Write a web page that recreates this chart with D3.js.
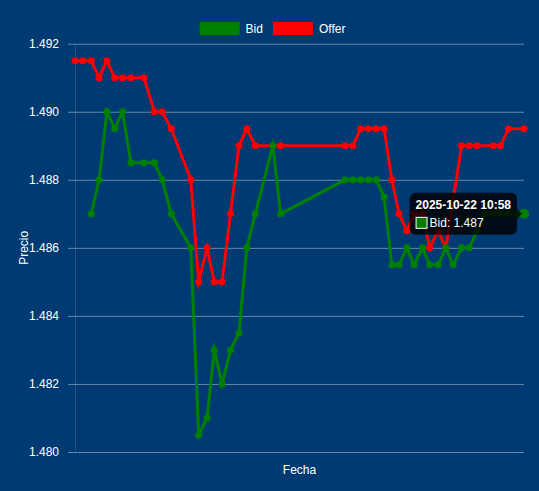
<!DOCTYPE html>
<html>
<head>
<meta charset="utf-8">
<script src="https://cdn.jsdelivr.net/npm/d3@7"></script>
<style>
  body { margin: 0; background: #003a73; }
  svg { display: block; font-family: "Liberation Sans", Arial, sans-serif; }
</style>
</head>
<body>
<script>
var width = 539,
    height = 491,
    margin = {top: 43.7, right: 15, bottom: 39, left: 75};

// Offer series
var offerTimes = ["10:00:30","10:01:30","10:02:35","10:03:35","10:04:35","10:05:35","10:06:35","10:07:40",
  "10:09:20","10:10:40","10:11:40","10:12:50","10:15:20","10:16:20","10:17:25","10:18:20","10:19:20",
  "10:20:25","10:21:30","10:22:30","10:23:35","10:26:50","10:35:05","10:36:05","10:37:05","10:38:05",
  "10:39:05","10:40:05","10:41:05","10:42:00","10:43:00","10:43:55","10:45:00","10:45:55","10:47:00",
  "10:48:00","10:50:00","10:51:00","10:52:00","10:54:05","10:55:00","10:56:00","10:58:00"];
var offerValues = [1.4915,1.4915,1.4915,1.4910,1.4915,1.4910,1.4910,1.4910,
  1.4910,1.4900,1.4900,1.4895,1.4880,1.4850,1.4860,1.4850,1.4850,
  1.4870,1.4890,1.4895,1.4890,1.4890,1.4890,1.4890,1.4895,1.4895,
  1.4895,1.4895,1.4880,1.4870,1.4865,1.4870,1.4870,1.4860,1.4865,
  1.4860,1.4890,1.4890,1.4890,1.4890,1.4890,1.4895,1.4895];

// Bid series
var bidTimes = ["10:02:35","10:03:35","10:04:35","10:05:35","10:06:35","10:07:40","10:09:20","10:10:40",
  "10:11:40","10:12:50","10:15:20","10:16:20","10:17:25","10:18:20","10:19:20","10:20:25","10:21:30",
  "10:22:30","10:23:35","10:25:50","10:26:50","10:35:05","10:36:05","10:37:05","10:38:05","10:39:05",
  "10:40:05","10:41:05","10:42:00","10:43:00","10:43:55","10:45:00","10:45:55","10:47:00","10:48:00",
  "10:48:55","10:50:00","10:51:00","10:52:00","10:53:00","10:54:05","10:55:00","10:56:00","10:57:05",
  "10:58:00"];
var bidValues = [1.4870,1.4880,1.4900,1.4895,1.4900,1.4885,1.4885,1.4885,
  1.4880,1.4870,1.4860,1.4805,1.4810,1.4830,1.4820,1.4830,1.4835,
  1.4860,1.4870,1.4890,1.4870,1.4880,1.4880,1.4880,1.4880,1.4880,
  1.4875,1.4855,1.4855,1.4860,1.4855,1.4860,1.4855,1.4855,1.4860,
  1.4855,1.4860,1.4860,1.4865,1.4870,1.4870,1.4870,1.4870,1.4870,
  1.4870];

var yTicks = [1.480, 1.482, 1.484, 1.486, 1.488, 1.490, 1.492];
var dayLabel = "2025-10-22";

var parseTime = d3.timeParse("%Y-%m-%d %H:%M:%S");
function toPoints(times, values) {
  return times.map(function(t, i) {
    return {date: parseTime(dayLabel + " " + t), value: values[i]};
  });
}
var bid = toPoints(bidTimes, bidValues),
    offer = toPoints(offerTimes, offerValues);

var svg = d3.select("body").append("svg")
  .attr("width", width)
  .attr("height", height);

svg.append("rect")
  .attr("width", width)
  .attr("height", height)
  .attr("fill", "#003a73");

var x = d3.scaleTime()
  .domain(d3.extent(bid.concat(offer), function(d) { return d.date; }))
  .range([margin.left, width - margin.right]);

var y = d3.scaleLinear()
  .domain([1.480, 1.492])
  .range([height - margin.bottom, margin.top]);

// y axis with gridlines
var yAxis = d3.axisLeft(y)
  .tickValues(yTicks)
  .tickFormat(d3.format(".3f"))
  .tickSize(-(width - margin.right - margin.left + 7))
  .tickPadding(9);

var gy = svg.append("g")
  .attr("transform", "translate(" + (margin.left - 7) + ",0)")
  .call(yAxis);
gy.select(".domain").remove();
gy.selectAll(".tick line")
  .attr("stroke", "rgba(255,255,255,0.4)")
  .attr("stroke-width", 1);
gy.selectAll(".tick text")
  .attr("fill", "#ffffff")
  .attr("font-size", 12)
  .attr("font-family", "Liberation Sans, Arial, sans-serif");

svg.append("line")
  .attr("x1", margin.left + 0.5).attr("x2", margin.left + 0.5)
  .attr("y1", margin.top).attr("y2", height - margin.bottom)
  .attr("stroke", "rgba(255,255,255,0.12)");

// axis titles
svg.append("text")
  .attr("x", (margin.left + width - margin.right) / 2)
  .attr("y", 470)
  .attr("text-anchor", "middle")
  .attr("dominant-baseline", "central")
  .attr("fill", "#ffffff")
  .attr("font-size", 12)
  .text("Fecha");

svg.append("text")
  .attr("transform", "translate(24," + ((margin.top + height - margin.bottom) / 2) + ") rotate(-90)")
  .attr("text-anchor", "middle")
  .attr("dominant-baseline", "central")
  .attr("fill", "#ffffff")
  .attr("font-size", 12)
  .text("Precio");

var line = d3.line()
  .x(function(d) { return x(d.date); })
  .y(function(d) { return y(d.value); });

// Offer first so Bid is on top
var series = [
  {name: "Offer", color: "#ff0000", data: offer},
  {name: "Bid", color: "#008000", data: bid}
];

series.forEach(function(s) {
  svg.append("path")
    .datum(s.data)
    .attr("fill", "none")
    .attr("stroke", s.color)
    .attr("stroke-width", 3)
    .attr("stroke-miterlimit", 10)
    .attr("d", line);
  svg.selectAll(null)
    .data(s.data)
    .enter().append("circle")
    .attr("cx", function(d) { return x(d.date); })
    .attr("cy", function(d) { return y(d.value); })
    .attr("r", 3.5)
    .attr("fill", s.color);
});

// legend
var legendItems = [{name: "Bid", color: "#008000"}, {name: "Offer", color: "#ff0000"}];
var legend = svg.append("g");
var lx = 0;
legendItems.forEach(function(it) {
  var g = legend.append("g").attr("transform", "translate(" + lx + ",0)");
  g.append("rect").attr("x", 0).attr("y", 22).attr("width", 40).attr("height", 13).attr("fill", it.color);
  var t = g.append("text")
    .attr("x", 46).attr("y", 28.5)
    .attr("dominant-baseline", "central")
    .attr("fill", "#ffffff")
    .attr("font-size", 12)
    .text(it.name);
  lx += 46 + t.node().getComputedTextLength() + 10;
});
var legendW = lx - 10;
legend.attr("transform", "translate(" + (width / 2 + 3 - legendW / 2) + ",0)");

// tooltip on last bid point
var hp = bid[bid.length - 1];
var px = x(hp.date), py = y(hp.value);
svg.append("circle")
  .attr("cx", px).attr("cy", py).attr("r", 5)
  .attr("fill", "#008000");

var tip = svg.append("g");
var tipTitle = dayLabel + " " + d3.timeFormat("%H:%M")(hp.date);
var tipBody = "Bid: " + hp.value.toFixed(3);
var tmp = tip.append("text").attr("font-size", 12).attr("font-weight", "bold").text(tipTitle);
var tw = tmp.node().getComputedTextLength();
tmp.remove();
var boxW = tw + 12, boxH = 42;
var bx = px - 7 - boxW, by = py - boxH / 2;
tip.append("path")
  .attr("d", "M" + (bx + boxW) + "," + (py - 5) + "L" + (px - 2) + "," + py + "L" + (bx + boxW) + "," + (py + 5) + "Z")
  .attr("fill", "rgba(0,0,0,0.8)");
tip.append("rect")
  .attr("x", bx).attr("y", by).attr("width", boxW).attr("height", boxH)
  .attr("rx", 6)
  .attr("fill", "rgba(0,0,0,0.8)");
tip.append("text")
  .attr("x", bx + 6).attr("y", by + 12)
  .attr("dominant-baseline", "central")
  .attr("fill", "#ffffff")
  .attr("font-size", 12)
  .attr("font-weight", "bold")
  .text(tipTitle);
tip.append("rect")
  .attr("x", bx + 6.5).attr("y", by + 24.5).attr("width", 11).attr("height", 11)
  .attr("fill", "#008000").attr("stroke", "#ffffff").attr("stroke-width", 1);
tip.append("text")
  .attr("x", bx + 20).attr("y", by + 30)
  .attr("dominant-baseline", "central")
  .attr("fill", "#ffffff")
  .attr("font-size", 12)
  .text(tipBody);
</script>
</body>
</html>
